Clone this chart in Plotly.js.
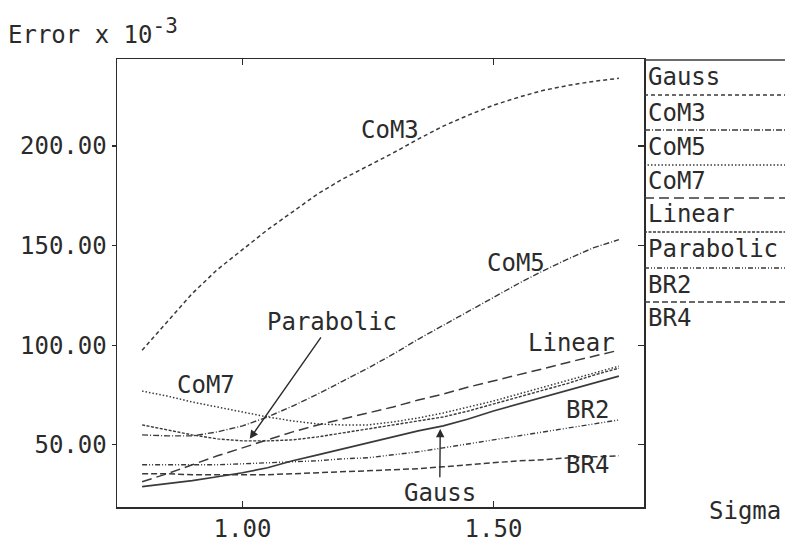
<!DOCTYPE html>
<html>
<head>
<meta charset="utf-8">
<script src="https://cdn.plot.ly/plotly-3.0.1.min.js"></script>
<style>html,body{margin:0;padding:0;background:#fff;}#chart{width:785px;height:545px;}</style>
</head>
<body>
<div id="chart"></div>
<script>
// ---- data ----
const sigma = [0.80,0.85,0.90,0.95,1.00,1.05,1.10,1.15,1.20,1.25,1.30,1.35,1.40,1.45,1.50,1.55,1.60,1.65,1.70,1.75];
const gauss     = [29,30.5,32,34,36,38.5,42,45,48,51,54,57,59.5,63,67,70.5,74,77.5,81,84.5];
const com3      = [97.5,112,126,138,148,158,167,176,183.5,190,196.5,203.5,210,215.5,220.5,224.5,228,230.5,232.5,234];
const com5      = [55,54.5,54.5,56.5,59.5,64,69.5,75.5,82,88.5,95.5,103,110,117,124,131,137.5,143.5,149,153];
const com7      = [77,74.5,71.5,69,66.5,64,62,60.5,60,60,61.5,63.5,66,69,72,75.5,79,82.5,86,89.5];
const linear    = [31.5,35.5,40,44.5,48.5,52.5,56.5,60,63,66,69,72.5,75.5,79,82,85,88.3,91.5,94.5,97.5];
const parabolic = [60,57.5,55,53,52,52,52.5,54,56,58,60,62,64,67,70.5,74,77.5,81,85,88.5];
const br2       = [40,40,40,40,40.5,41,41.5,42,43,43.5,45,46.5,48.5,50.5,52.5,54.5,56.5,58.5,60.5,62.5];
const br4       = [35.5,35.5,35,35,35,35,35.5,36,36.5,37,37.5,38,39,40,41,42,42.5,43.5,44,44.5];

const seriesNames = ["Gauss","CoM3","CoM5","CoM7","Linear","Parabolic","BR2","BR4"];
const seriesData  = [gauss, com3, com5, com7, linear, parabolic, br2, br4];
const yTickVals = [50,100,150,200];
const yTickText = ["50.00","100.00","150.00","200.00"];
const xTickVals = [1.0,1.5];
const xTickText = ["1.00","1.50"];

// ---- styles ----
const INK = "#2b2b2b";
const LINE = "#3a3a3a";
const FONT = "DejaVu Sans Mono";
const dashes = ["solid","4px,3px","6px,2px,1px,2px","1.5px,2px","10px,5px","3px,1.5px","5px,2px,1px,2px,1px,2px","6px,3px"];
const widths = [1.7,1.5,1.4,1.5,1.5,1.4,1.4,1.5];

const W = 785, H = 545;
const M = {l:117, r:141, t:59, b:38};
const PW = W - M.l - M.r, PH = H - M.t - M.b;
const px2paperX = px => (px - M.l) / PW;
const px2paperY = py => (H - M.b - py) / PH;

const traces = seriesData.map((d,i) => ({
  type:"scatter", mode:"lines", x:sigma, y:d, name:seriesNames[i],
  line:{color:LINE, width:widths[i], dash:dashes[i]}, hoverinfo:"skip", showlegend:false
}));
traces.push({type:"scatter", mode:"lines", x:[null], y:[null], yaxis:"y2", showlegend:false, hoverinfo:"skip"});

// legend column on the right: sample line above each label
const legLineY = [60,95,130,165,198,232,268,302];
const legTextY = [77,113,147,181,214,249,285,318];
const shapes = seriesNames.map((n,i) => ({
  type:"line", xref:"paper", yref:"paper",
  x0:1, x1:px2paperX(W), y0:px2paperY(legLineY[i]), y1:px2paperY(legLineY[i]),
  line:{color:LINE, width:i===0?1.5:1.3, dash:dashes[i]}
}));

const tf = {family:FONT, size:24, color:INK};
const annotations = seriesNames.map((n,i) => ({
  xref:"paper", yref:"paper", x:px2paperX(646), y:px2paperY(legTextY[i]),
  xanchor:"left", yanchor:"middle", text:n, showarrow:false, font:tf
}));

// in-plot labels
const inLabels = [
  {t:"CoM3", x:1.293, y:208},
  {t:"CoM5", x:1.545, y:141.5},
  {t:"Linear", x:1.655, y:101},
  {t:"BR2", x:1.687, y:67.5},
  {t:"BR4", x:1.687, y:40},
  {t:"CoM7", x:0.927, y:80}
];
inLabels.forEach(o => annotations.push({x:o.x, y:o.y, xref:"x", yref:"y", text:o.t, showarrow:false, font:tf, xanchor:"center", yanchor:"middle"}));
// labels with arrows (text sits at the arrow tail)
annotations.push({x:1.0145, y:53, ax:1.178, ay:111.7, xref:"x", yref:"y", axref:"x", ayref:"y", text:"Parabolic", font:tf,
  showarrow:true, arrowhead:2, arrowsize:1.2, arrowwidth:1.4, arrowcolor:INK, standoff:0, borderpad:1});
annotations.push({x:1.394, y:58, ax:1.393, ay:26, xref:"x", yref:"y", axref:"x", ayref:"y", text:"Gauss", font:tf,
  showarrow:true, arrowhead:2, arrowsize:1.2, arrowwidth:1.4, arrowcolor:INK, standoff:0, borderpad:1});
// axis caption on the right of the x axis
annotations.push({xref:"paper", yref:"paper", x:px2paperX(783), y:px2paperY(511), xanchor:"right", yanchor:"middle", text:"Sigma", showarrow:false, font:tf});

const xr = [0.75, 1.80], yr = [18.8, 243.7];
const layout = {
  width:W, height:H, margin:M, paper_bgcolor:"#fff", plot_bgcolor:"#fff",
  showlegend:false,
  title:{text:"Error x 10<sup><span style='font-size:21px'>-3</span></sup>", font:tf, x:8/W, xanchor:"left", xref:"container", y:1-35/H, yref:"container", yanchor:"middle"},
  xaxis:{range:xr, tickvals:xTickVals, ticktext:xTickText, ticks:"inside", ticklen:6, tickwidth:1.2, tickcolor:INK,
         showline:true, linecolor:INK, linewidth:1.5, mirror:"ticks", showgrid:false, zeroline:false, tickfont:tf},
  yaxis:{range:yr, tickvals:yTickVals, ticktext:yTickText, ticks:"outside", ticklen:4, tickwidth:1.2, tickcolor:INK,
         showline:true, linecolor:INK, linewidth:1.5, mirror:true, showgrid:false, zeroline:false, tickfont:tf},
  yaxis2:{range:yr, overlaying:"y", side:"right", tickvals:yTickVals, ticks:"inside", ticklen:6, tickwidth:1.2, tickcolor:INK,
          showticklabels:false, showline:false, showgrid:false, zeroline:false},
  shapes:shapes, annotations:annotations
};
Plotly.newPlot("chart", traces, layout, {staticPlot:true, displayModeBar:false});
</script>
</body>
</html>
